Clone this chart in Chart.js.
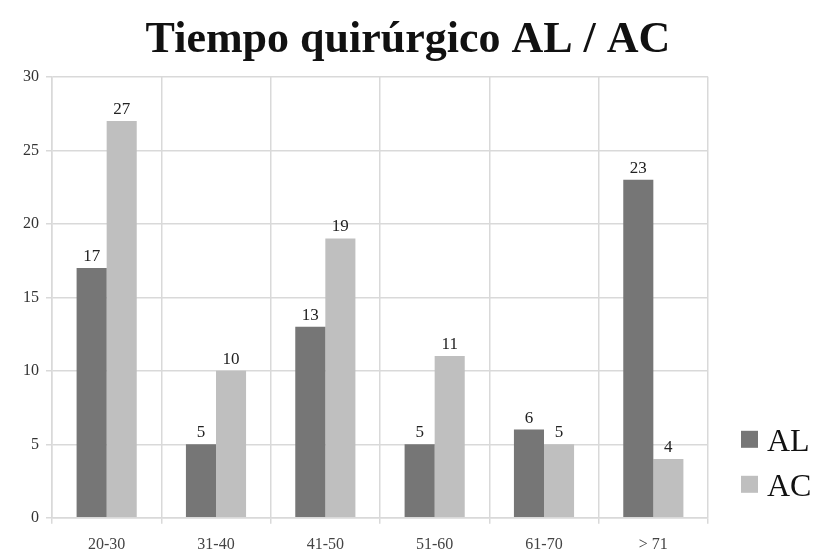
<!DOCTYPE html>
<html lang="es">
  <head>
    <meta charset="UTF-8" />
    <title>Tiempo quirúrgico AL / AC</title>
    <script src="https://cdn.jsdelivr.net/npm/chart.js"></script>
    <style>
      body {
        margin: 0;
        background-color: #ffffff;
      }
      #wrap {
        width: 816px;
        height: 551px;
      }
    </style>
  </head>
  <body>
    <div id="wrap"><canvas id="myChart"></canvas></div>

    <script>
      var categories = ['20-30', '31-40', '41-50', '51-60', '61-70', '> 71'];
      var alValues = [17, 5, 13, 5, 6, 23];
      var acValues = [27, 10, 19, 11, 5, 4];
      var yTicks = [0, 5, 10, 15, 20, 25, 30];

      var serif = '"Liberation Serif", "Times New Roman", serif';

      // números encima de cada barra
      var barLabels = {
        id: 'barLabels',
        afterDatasetsDraw: function (chart) {
          var ctx = chart.ctx;
          ctx.save();
          ctx.font = '17px ' + serif;
          ctx.fillStyle = '#222';
          ctx.textAlign = 'center';
          ctx.textBaseline = 'bottom';
          chart.data.datasets.forEach(function (ds, i) {
            chart.getDatasetMeta(i).data.forEach(function (bar, j) {
              ctx.fillText(ds.data[j], bar.x, bar.y - 3);
            });
          });
          ctx.restore();
        }
      };

      // leyenda a la derecha, abajo, como en el original
      var sideLegend = {
        id: 'sideLegend',
        afterDraw: function (chart) {
          var ctx = chart.ctx;
          var area = chart.chartArea;
          ctx.save();
          ctx.font = '32px ' + serif;
          ctx.textAlign = 'left';
          ctx.textBaseline = 'middle';
          chart.data.datasets.forEach(function (ds, i) {
            var cy = area.bottom - 77 + i * 45;
            ctx.fillStyle = ds.backgroundColor;
            ctx.fillRect(area.right + 33, cy - 10, 17, 17);
            ctx.fillStyle = '#111';
            ctx.fillText(ds.label, area.right + 59, cy + 2);
          });
          ctx.restore();
        }
      };

      var ctx = document.getElementById('myChart').getContext('2d');
      var myChart = new Chart(ctx, {
        type: 'bar',
        data: {
          labels: categories,
          datasets: [
            {
              label: 'AL',
              data: alValues,
              backgroundColor: '#767676',
              borderWidth: 0,
              categoryPercentage: 0.55,
              barPercentage: 1.0
            },
            {
              label: 'AC',
              data: acValues,
              backgroundColor: '#bfbfbf',
              borderWidth: 0,
              categoryPercentage: 0.55,
              barPercentage: 1.0
            }
          ]
        },
        options: {
          responsive: true,
          maintainAspectRatio: false,
          animation: false,
          layout: { padding: { top: 0, left: 0, right: 0, bottom: -14 } },
          plugins: {
            title: {
              display: true,
              text: 'Tiempo quirúrgico AL / AC',
              color: '#111',
              font: { family: serif, size: 44, weight: 'bold' },
              padding: { top: 14, bottom: 10 }
            },
            legend: { display: false },
            tooltip: { enabled: false }
          },
          scales: {
            x: {
              grid: { color: '#d9d9d9', lineWidth: 1.5, tickLength: 6, offset: true },
              border: { color: '#d9d9d9', width: 1.5 },
              ticks: { color: '#444', font: { family: serif, size: 16 }, padding: 11 }
            },
            y: {
              min: 0,
              max: 30,
              afterBuildTicks: function (axis) {
                axis.ticks = yTicks.map(function (v) { return { value: v }; });
              },
              afterFit: function (axis) {
                axis.width = 52;
              },
              grid: { color: '#d9d9d9', lineWidth: 1.5, tickLength: 6 },
              border: { color: '#d9d9d9', width: 1.5 },
              ticks: { color: '#333', font: { family: serif, size: 16 }, padding: 7 }
            },
            // eje vacío a la derecha: deja el sitio de la leyenda
            gap: {
              position: 'right',
              grid: { display: false },
              border: { display: false },
              ticks: { display: false },
              afterFit: function (axis) {
                axis.width = 108;
              }
            }
          }
        },
        plugins: [barLabels, sideLegend]
      });
    </script>
  </body>
</html>
